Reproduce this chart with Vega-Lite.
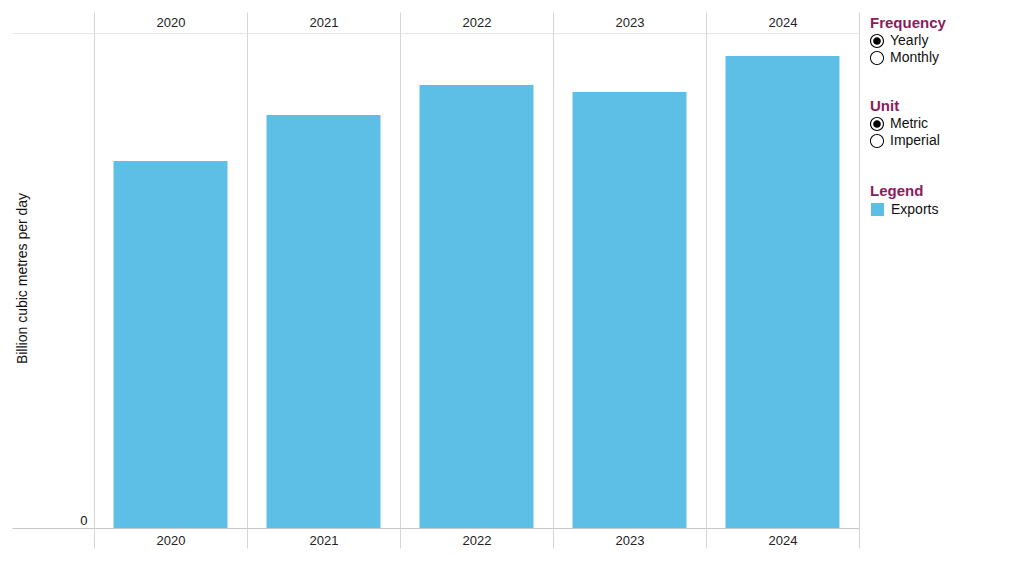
{
  "$schema": "https://vega.github.io/schema/vega-lite/v6.json",
  "width": 765,
  "height": 495,
  "padding": {"left": 11, "top": 11, "right": 5, "bottom": 5},
  "background": "white",
  "config": {
    "font": "Liberation Sans",
    "view": {"stroke": null}
  },
  "datasets": {
    "exports": [
      {"year": "2020", "series": "Exports", "value": 0.1854},
      {"year": "2021", "series": "Exports", "value": 0.2086},
      {"year": "2022", "series": "Exports", "value": 0.2237},
      {"year": "2023", "series": "Exports", "value": 0.2202},
      {"year": "2024", "series": "Exports", "value": 0.2384}
    ],
    "frequency": [{"frequency": "Yearly"}, {"frequency": "Monthly"}],
    "unit": [{"unit": "Metric"}, {"unit": "Imperial"}]
  },
  "layer": [
    {
      "data": {"name": "exports"},
      "mark": {"type": "bar", "width": {"band": 0.745}},
      "encoding": {
        "x": {
          "field": "year",
          "type": "nominal",
          "scale": {"paddingInner": 0, "paddingOuter": 0},
          "axis": {
            "orient": "bottom",
            "title": null,
            "domain": false,
            "tickBand": "extent",
            "grid": true,
            "gridColor": "#d6d6d6",
            "tickColor": "#d6d6d6",
            "tickSize": 20,
            "labelAngle": 0,
            "labelBaseline": "middle",
            "labelPadding": -8,
            "labelFontSize": 13,
            "labelColor": "#222222"
          }
        },
        "y": {
          "field": "value",
          "type": "quantitative",
          "scale": {"domain": [0, 0.25], "nice": false},
          "axis": {
            "title": "Billion cubic metres per day",
            "titleFontSize": 14,
            "titleFontWeight": "normal",
            "titleColor": "#111111",
            "titleX": -65,
            "titleY": 245,
            "titleBaseline": "bottom",
            "domain": false,
            "values": [0, 0.25],
            "grid": true,
            "gridColor": {"condition": {"test": "datum.value === 0", "value": "#c8c8c8"}, "value": "#e6e6e6"},
            "tickColor": {"condition": {"test": "datum.value === 0", "value": "#c8c8c8"}, "value": "#e6e6e6"},
            "tickSize": 82,
            "labelExpr": "datum.value === 0 ? '0' : ''",
            "labelAlign": "right",
            "labelBaseline": "bottom",
            "labelOffset": -1,
            "labelPadding": -75,
            "labelFontSize": 13,
            "labelColor": "#111111"
          }
        },
        "color": {
          "field": "series",
          "type": "nominal",
          "scale": {"range": ["#5ebfe6"]},
          "legend": {
            "title": "Legend",
            "orient": "none",
            "legendX": 776,
            "legendY": 151,
            "titleFontSize": 15,
            "titleFontWeight": "bold",
            "titleColor": "#8c1b5b",
            "titlePadding": 3,
            "symbolType": "square",
            "symbolSize": 169,
            "symbolOpacity": 1,
            "labelFontSize": 14,
            "labelColor": "#111111",
            "labelOffset": 6
          }
        }
      }
    },
    {
      "data": {"name": "exports"},
      "mark": {"type": "rule", "opacity": 0},
      "encoding": {
        "x": {
          "field": "year",
          "type": "nominal",
          "axis": {
            "orient": "top",
            "title": null,
            "domain": false,
            "tickBand": "extent",
            "grid": false,
            "tickColor": "#d6d6d6",
            "tickSize": 21,
            "labelAngle": 0,
            "labelBaseline": "middle",
            "labelPadding": -10,
            "labelFontSize": 13,
            "labelColor": "#222222"
          }
        }
      }
    },
    {
      "data": {"name": "frequency"},
      "mark": {"type": "point", "filled": true, "color": "black", "opacity": 0},
      "encoding": {
        "shape": {
          "field": "frequency",
          "type": "nominal",
          "scale": {
            "domain": ["Yearly", "Monthly"],
            "range": [
              "M-1,0A1,1,0,1,0,1,0A1,1,0,1,0,-1,0Z M-0.84,0A0.84,0.84,0,1,1,0.84,0A0.84,0.84,0,1,1,-0.84,0Z M-0.55,0A0.55,0.55,0,1,0,0.55,0A0.55,0.55,0,1,0,-0.55,0Z",
              "M-1,0A1,1,0,1,0,1,0A1,1,0,1,0,-1,0Z M-0.86,0A0.86,0.86,0,1,1,0.86,0A0.86,0.86,0,1,1,-0.86,0Z"
            ]
          },
          "legend": {
            "title": "Frequency",
            "orient": "none",
            "legendX": 776,
            "legendY": -17,
            "titleFontSize": 15,
            "titleFontWeight": "bold",
            "titleColor": "#8c1b5b",
            "titlePadding": 3,
            "symbolSize": 196,
            "symbolOpacity": 1,
            "symbolFillColor": "black",
            "symbolStrokeWidth": 0,
            "rowPadding": 3,
            "labelFontSize": 14,
            "labelColor": "#111111",
            "labelOffset": 6
          }
        }
      }
    },
    {
      "data": {"name": "unit"},
      "mark": {"type": "point", "filled": true, "color": "black", "opacity": 0},
      "encoding": {
        "shape": {
          "field": "unit",
          "type": "nominal",
          "scale": {
            "domain": ["Metric", "Imperial"],
            "range": [
              "M-1,0A1,1,0,1,0,1,0A1,1,0,1,0,-1,0Z M-0.84,0A0.84,0.84,0,1,1,0.84,0A0.84,0.84,0,1,1,-0.84,0Z M-0.55,0A0.55,0.55,0,1,0,0.55,0A0.55,0.55,0,1,0,-0.55,0Z",
              "M-1,0A1,1,0,1,0,1,0A1,1,0,1,0,-1,0Z M-0.86,0A0.86,0.86,0,1,1,0.86,0A0.86,0.86,0,1,1,-0.86,0Z"
            ]
          },
          "legend": {
            "title": "Unit",
            "orient": "none",
            "legendX": 776,
            "legendY": 66,
            "titleFontSize": 15,
            "titleFontWeight": "bold",
            "titleColor": "#8c1b5b",
            "titlePadding": 3,
            "symbolSize": 196,
            "symbolOpacity": 1,
            "symbolFillColor": "black",
            "symbolStrokeWidth": 0,
            "rowPadding": 3,
            "labelFontSize": 14,
            "labelColor": "#111111",
            "labelOffset": 6
          }
        }
      }
    }
  ],
  "resolve": {
    "scale": {"shape": "independent"},
    "legend": {"shape": "independent"},
    "axis": {"x": "independent"}
  }
}
